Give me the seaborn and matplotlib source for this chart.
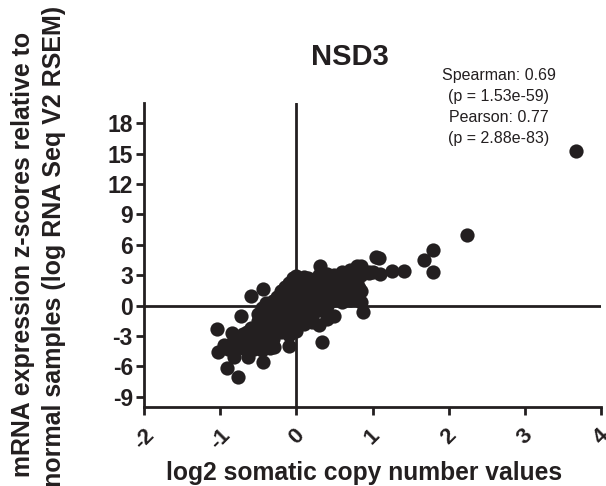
import pandas as pd
import numpy as np
import matplotlib.pyplot as plt
import seaborn as sns

# points that stand clear of the main cloud
x_outer = [3.67, 2.24, 1.80, 1.67, 1.80, 1.41, 1.26, 1.10, 1.08, 1.04, 0.88, 0.34, -0.44, -0.59, -0.73,
           -1.04, -0.85, -1.03, -0.91, -0.76, -0.44, -0.63, -0.82, -0.29, -0.10, 0.31]
y_outer = [15.3, 7.0, 5.51, 4.55, 3.30, 3.40, 3.47, 3.14, 4.68, 4.85, -0.66, -3.56, 1.65, 0.92, -1.02,
           -2.31, -2.70, -4.55, -6.11, -7.0, -5.51, -5.02, -5.1, -4.06, -3.96, 3.96]

# main cloud, read column by column
x_core = [-0.95, -0.9, -0.85, -0.8, -0.8, -0.7, -0.7, -0.7, -0.6, -0.6, -0.6,
          -0.5, -0.5, -0.5, -0.5, -0.5, -0.45, -0.45, -0.45, -0.45, -0.45,
          -0.4, -0.4, -0.4, -0.4, -0.4, -0.3, -0.3, -0.3, -0.3, -0.3, -0.3,
          -0.2, -0.2, -0.2, -0.2, -0.2, -0.2, -0.1, -0.1, -0.1, -0.1, -0.1, -0.1, -0.1,
          0.0, 0.0, 0.0, 0.0, 0.0, 0.0, 0.0, 0.1, 0.1, 0.1, 0.1, 0.1, 0.1, 0.1,
          0.2, 0.2, 0.2, 0.2, 0.2, 0.2, 0.2, 0.3, 0.3, 0.3, 0.3, 0.3, 0.3,
          0.4, 0.4, 0.4, 0.4, 0.4, 0.4, 0.5, 0.5, 0.5, 0.5, 0.5,
          0.6, 0.6, 0.6, 0.6, 0.7, 0.7, 0.7, 0.7, 0.8, 0.8, 0.8, 0.8, 0.85, 0.85, 0.85, 0.85, 0.95,
          -0.35, -0.25, -0.15, -0.05, 0.05, 0.15, 0.25, 0.35, 0.45, 0.55, 0.65, 0.75,
          -0.35, -0.25, -0.15, -0.05, 0.05, 0.15, 0.25, 0.35, 0.45, 0.55, 0.65, 0.75,
          -0.35, -0.25, -0.15, -0.05, 0.05, 0.15, 0.25, 0.35, 0.45, 0.55, 0.65, 0.75,
          -0.55, -0.65, -0.75, -0.55, -0.65, 0.62, 0.72, 0.82,
          -0.05, 0.0, 0.1, 0.15, -0.75, -0.65, -0.85, -0.55, -0.35, -0.45, 0.95, 1.0]
y_core = [-3.9, -4.3, -3.7, -3.6, -4.3, -2.8, -3.3, -4.2, -2.2, -3.2, -4.2,
          -0.8, -1.5, -2.4, -3.3, -4.1, -0.2, -1.0, -2.0, -3.0, -3.8,
          0.3, -0.7, -1.7, -2.7, -3.6, 0.5, -0.5, -1.5, -2.5, -3.3, -4.0,
          1.4, 0.5, -0.5, -1.4, -2.1, -2.6, 2.2, 1.2, 0.3, -0.6, -1.5, -2.3, -2.9,
          2.4, 1.6, 0.8, 0.0, -0.8, -1.6, -2.5, 2.4, 1.6, 0.8, 0.0, -0.7, -1.3, -1.8,
          2.4, 1.7, 1.0, 0.3, -0.4, -1.0, -1.6, 3.0, 2.2, 1.4, 0.6, -0.4, -1.9,
          3.1, 2.4, 1.6, 0.8, 0.0, -1.3, 3.0, 2.2, 1.4, 0.6, -1.0,
          3.3, 2.5, 1.6, 0.4, 3.5, 2.7, 1.8, 0.6, 3.9, 3.1, 2.2, 1.2, 3.9, 3.0, 1.4, 0.35, 3.2,
          -0.1, 0.9, 1.8, 2.0, 2.1, 2.2, 2.6, 2.7, 2.6, 2.9, 3.0, 3.4,
          -1.1, -0.2, 0.8, 1.0, 1.2, 1.3, 1.8, 1.9, 1.8, 2.0, 2.2, 2.6,
          -2.2, -1.2, -1.0, -0.2, 0.3, 0.4, 0.9, 1.0, 0.9, 1.1, 1.2, 1.6,
          -2.8, -3.4, -3.8, -3.8, -2.6, 0.9, 1.2, 1.7,
          2.7, 2.9, 2.8, 2.7, -3.9, -3.6, -4.0, -4.3, -4.2, -4.4, 3.3, 3.3]

x_ticks = [-2, -1, 0, 1, 2, 3, 4]
x_labels = ['-2', '-1', '0', '1', '2', '3', '4']
y_ticks = [-9, -6, -3, 0, 3, 6, 9, 12, 15, 18]
y_labels = ['-9', '-6', '-3', '0', '3', '6', '9', '12', '15', '18']

df = pd.DataFrame({'cna': x_outer + x_core, 'mrna': y_outer + y_core})

ink = '#231f20'
sns.set_style('ticks')
plt.rcParams['font.family'] = ['Liberation Sans', 'DejaVu Sans']

W, H = 606, 486
fig = plt.figure(figsize=(W / 100, H / 100), dpi=100)
ax = fig.add_axes([144 / W, 1 - 407 / H, (601 - 144) / W, (407 - 103) / H])

ax.axhline(0, color=ink, lw=2, zorder=1)
ax.axvline(0, color=ink, lw=2, zorder=1)
sns.scatterplot(data=df, x='cna', y='mrna', color=ink, s=105, linewidth=0, alpha=1, ax=ax, zorder=3,
                legend=False, clip_on=False)

ax.set_xlim(-2, 4)
ax.set_ylim(-10, 20)
ax.set_xticks(x_ticks)
ax.set_xticklabels(x_labels, rotation=45, ha='center', fontsize=16, fontweight='bold', color=ink)
ax.set_yticks(y_ticks)
ax.set_yticklabels(y_labels, fontsize=16.5, fontweight='bold', color=ink)
ax.tick_params(axis='both', width=2, length=6, color=ink)
ax.tick_params(axis='y', pad=2)
ax.tick_params(axis='x', pad=7)
ax.set_xlabel('log2 somatic copy number values', fontsize=17.7, fontweight='bold', color=ink)
ax.xaxis.set_label_coords(0.481, -0.179)
ax.set_ylabel('')
for s in ['left', 'bottom']:
    ax.spines[s].set_linewidth(2)
    ax.spines[s].set_color(ink)
sns.despine(ax=ax)

fig.text(23 / W, 1 - 254 / H, 'mRNA expression z-scores relative to', rotation=90, ha='center', va='center',
         fontsize=17.9, fontweight='bold', color=ink)
fig.text(54 / W, 1 - 246 / H, 'normal samples (log RNA Seq V2 RSEM)', rotation=90, ha='center', va='center',
         fontsize=18, fontweight='bold', color=ink)
fig.text(350 / W, 1 - 57 / H, 'NSD3', ha='center', va='center', fontsize=21, fontweight='bold', color=ink)
fig.text(499 / W, 1 - 107 / H, 'Spearman: 0.69\n(p = 1.53e-59)\nPearson: 0.77\n(p = 2.88e-83)', ha='center',
         va='center', fontsize=11.5, color=ink, linespacing=1.5)

plt.savefig('out.png', dpi=100)
